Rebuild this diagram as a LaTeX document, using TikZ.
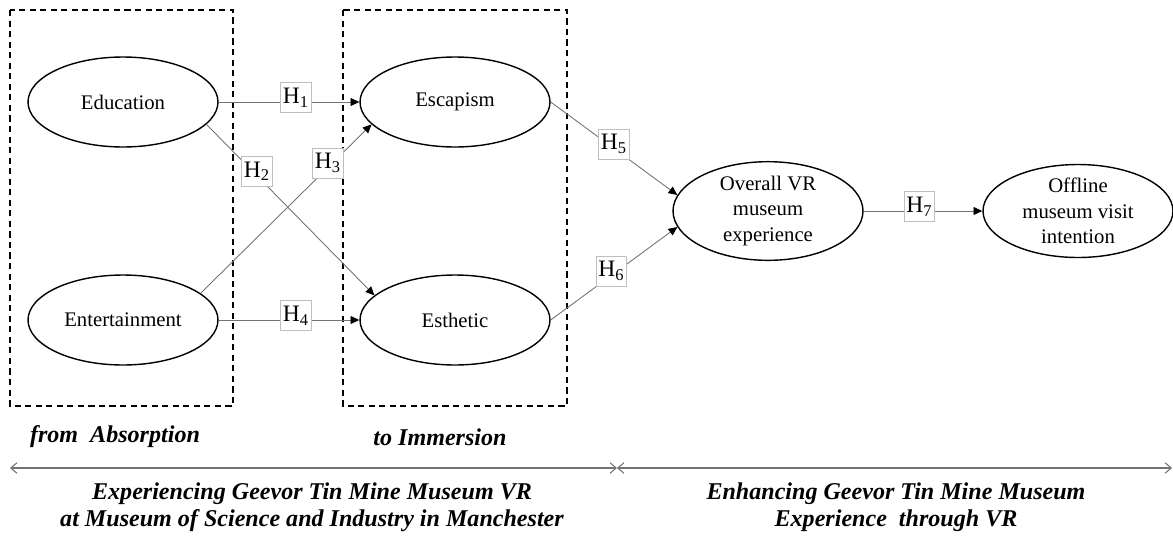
\documentclass[tikz,border=0pt]{standalone}
\usepackage{fontspec}
\setmainfont{Liberation Serif}
\usepackage{tikz}
\usetikzlibrary{arrows.meta, shapes.geometric, positioning}

\begin{document}
\begin{tikzpicture}[x=0.02cm, y=-0.02cm,
    construct/.style={ellipse, draw, line width=0.8pt, minimum width=3.8cm, minimum height=1.8cm,
        inner sep=0pt, align=center, font=\fontsize{11.8}{14.5}\selectfont},
    zone/.style={draw, line width=0.8pt, dash pattern=on 3.5pt off 2.5pt},
    link/.style={draw=black!55, line width=0.5pt, -{Triangle[length=5pt, width=4.5pt, color=black]}},
    hyp/.style={draw=black!25, fill=white, inner xsep=1.2pt, inner ysep=3pt, anchor=base, yshift=-0.8pt,
        font=\fontsize{13.4}{13.4}\selectfont},
    caption/.style={align=center, font=\fontsize{13.7}{15.3}\selectfont\bfseries\itshape},
    dimline/.style={draw=black!55, line width=0.6pt,
        {Straight Barb[length=3.5pt, width=6pt]}-{Straight Barb[length=3.5pt, width=6pt]}}
]
    \useasboundingbox (0,0) rectangle (1173,538);

    % Zones
    \draw[zone] (10,10) rectangle (233,406);
    \draw[zone] (343,10) rectangle (567,406);

    % Constructs
    \node[construct] (edu) at (123,102) {Education};
    \node[construct] (ent) at (123,320) {Entertainment};
    \node[construct] (esc) at (455,102) {Escapism};
    \node[construct] (esth) at (455,320) {Esthetic};
    \node[construct] (overall) at (768,211) {Overall VR\\museum\\experience};
    \node[construct] (offline) at (1078,211) {Offline\\museum visit\\intention};

    % Hypotheses
    \draw[link] (edu.east) -- node[hyp, pos=0.55] {H\textsubscript{1}} (esc.west);
    \draw[link] (edu.-15) -- node[hyp, pos=0.3] {H\textsubscript{2}} (esth.163);
    \draw[link] (ent.19) -- node[hyp, pos=0.745] {H\textsubscript{3}} (esc.195);
    \draw[link] (ent.east) -- node[hyp, pos=0.55] {H\textsubscript{4}} (esth.west);
    \draw[link] (esc.east) -- node[hyp, pos=0.5] {H\textsubscript{5}} (overall.170);
    \draw[link] (esth.east) -- node[hyp, pos=0.48] {H\textsubscript{6}} (overall.190);
    \draw[link] (overall.east) -- node[hyp, pos=0.47] {H\textsubscript{7}} (offline.west);

    % Zone titles
    \node[caption] (absorb) at (115,437) {from~~Absorption};
    \node[caption] (immerse) at (440,437) {to Immersion};

    % Dimension line
    \coordinate (dimL) at (10,468);
    \coordinate (dimM) at (617,468);
    \coordinate (dimR) at (1172,468);
    \draw[dimline] (dimL) -- (dimM);
    \draw[dimline] (dimM) -- (dimR);

    % Stage titles
    \node[caption] (stageA) at (312,507) {Experiencing Geevor Tin Mine Museum VR\\at Museum of Science and Industry in Manchester};
    \node[caption] (stageB) at (896,507) {Enhancing Geevor Tin Mine Museum\\Experience~~through VR};
\end{tikzpicture}
\end{document}
